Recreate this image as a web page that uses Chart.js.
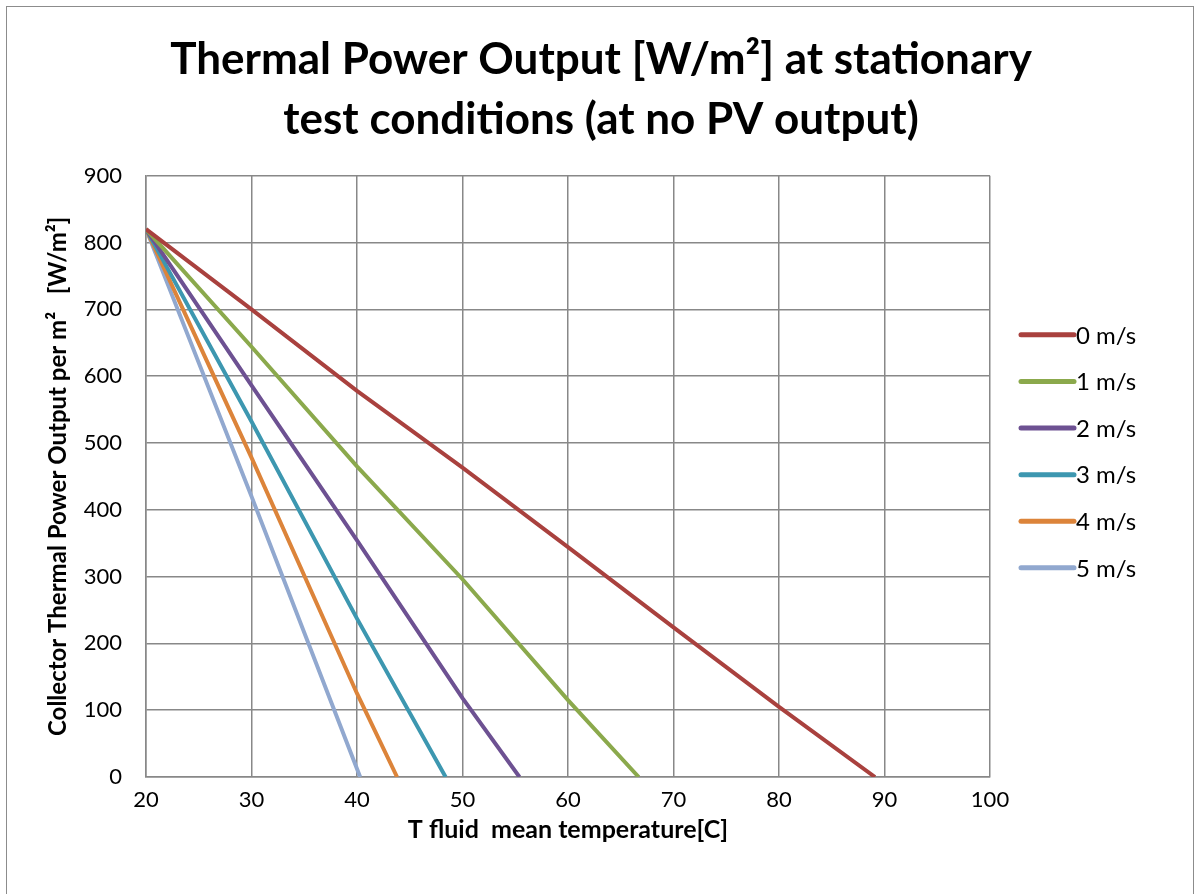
<!DOCTYPE html>
<html>
<head>
<meta charset="utf-8">
<script src="https://cdn.jsdelivr.net/npm/chart.js@4.4.0/dist/chart.umd.min.js"></script>
<style>
  body { margin: 0; background: #fff; }
  #wrap { position: relative; width: 1195px; height: 894px; overflow: hidden; }
  #frame { position: absolute; left: 6px; top: 6px; width: 1186px; height: 1000px; border: 1px solid #8c8c8c; pointer-events: none; }
</style>
</head>
<body>
<div id="wrap">
  <canvas id="myChart" width="1195" height="894"></canvas>
  <div id="frame"></div>
</div>
<script>
const seriesLabels = ["0 m/s", "1 m/s", "2 m/s", "3 m/s", "4 m/s", "5 m/s"];
const seriesColors = ["#A9413E", "#8BA94C", "#6D5192", "#3D97B0", "#DC843A", "#91A8CF"];

// T fluid mean temperature [C] and thermal power [W/m2]
const temp0 = [20, 30, 40, 50, 60, 70, 80, 89.1];
const power0 = [820, 700, 578, 463, 344, 224, 105, 0];
const temp1 = [20, 30, 40, 50, 60, 66.7];
const power1 = [820, 644, 465, 296, 115, 0];
const temp2 = [20, 30, 40, 50, 55.4];
const power2 = [820, 586, 354, 118, 0];
const temp3 = [20, 30, 40, 48.4];
const power3 = [820, 532, 237, 0];
const temp4 = [20, 30, 40, 43.8];
const power4 = [820, 478, 125, 0];
const temp5 = [20, 30, 40.3];
const power5 = [820, 420, 0];

const temps = [temp0, temp1, temp2, temp3, temp4, temp5];
const powers = [power0, power1, power2, power3, power4, power5];

const FONT = "Lato, 'Open Sans', sans-serif";
const GRID = "#888888";

const datasets = seriesLabels.map((label, i) => ({
  label: label,
  data: temps[i].map((t, j) => ({ x: t, y: powers[i][j] })),
  borderColor: seriesColors[i],
  backgroundColor: seriesColors[i],
  borderWidth: 4,
  pointRadius: 0,
  tension: 0,
  fill: false,
}));

// legend drawn at the right of the plot, like the spreadsheet one
const sideLegend = {
  id: "sideLegend",
  afterDraw(chart) {
    const { ctx, chartArea } = chart;
    const gap = 46.6;
    const n = chart.data.datasets.length;
    const y0 = (chartArea.top + chartArea.bottom) / 2 - 25 - gap * (n - 1) / 2;
    const x0 = chartArea.right + 31;
    ctx.save();
    ctx.font = "24px " + FONT;
    ctx.textBaseline = "middle";
    ctx.lineCap = "round";
    chart.data.datasets.forEach((ds, i) => {
      const y = y0 + i * gap;
      ctx.strokeStyle = ds.borderColor;
      ctx.lineWidth = 5;
      ctx.beginPath();
      ctx.moveTo(x0, y);
      ctx.lineTo(x0 + 53, y);
      ctx.stroke();
      ctx.fillStyle = "#000";
      ctx.fillText(ds.label, x0 + 55, y + 1);
    });
    ctx.restore();
  },
};

const config = {
  type: "line",
  data: { datasets: datasets },
  options: {
    responsive: false,
    animation: false,
    layout: { padding: { left: 36, right: 29, top: 0, bottom: 37 } },
    plugins: {
      legend: { display: false },
      tooltip: { enabled: false },
      title: {
        display: true,
        text: ["Thermal Power Output [W/m\u00B2] at stationary", "test conditions (at no PV output)"],
        color: "#000",
        font: { family: FONT, size: 44, weight: "bold", lineHeight: 1.36 },
        padding: { top: 30, bottom: 26 },
      },
    },
    scales: {
      x: {
        type: "linear",
        min: 20,
        max: 100,
        afterFit: (s) => { s.height = 80; },
        ticks: { stepSize: 10, color: "#000", padding: 10, font: { family: FONT, size: 22 } },
        grid: { color: GRID, lineWidth: 1.5, drawTicks: false },
        border: { color: GRID, width: 1.5 },
        title: {
          display: true,
          text: "T fluid  mean temperature[C]",
          color: "#000",
          font: { family: FONT, size: 25, weight: "bold" },
          padding: { top: 0, bottom: 12 },
        },
      },
      y: {
        min: 0,
        max: 900,
        afterFit: (s) => { s.width = 110; },
        ticks: { stepSize: 100, color: "#000", padding: 24, font: { family: FONT, size: 22 } },
        grid: { color: GRID, lineWidth: 1.5, drawTicks: false },
        border: { color: GRID, width: 1.5 },
        title: {
          display: true,
          text: "Collector Thermal Power Output per m\u00B2   [W/m\u00B2]",
          color: "#000",
          font: { family: FONT, size: 24, weight: "bold" },
          padding: { top: 8, bottom: 0 },
        },
      },
      // empty right-hand box that leaves room for the legend
      side: {
        position: "right",
        display: true,
        afterFit: (s) => { s.width = 176; },
        ticks: { display: false },
        grid: { display: false },
        border: { display: false },
      },
    },
  },
  plugins: [sideLegend],
};

new Chart(document.getElementById("myChart").getContext("2d"), config);
</script>
</body>
</html>
